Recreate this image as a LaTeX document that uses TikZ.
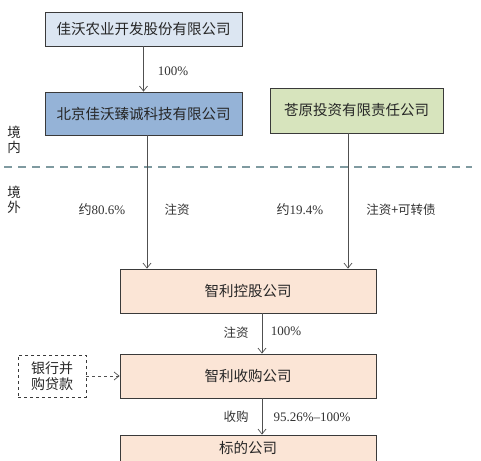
\documentclass[tikz,border=0pt]{standalone}
\usepackage{fontspec}
\setmainfont{Liberation Serif}
\newfontfamily\cjk{Noto Sans CJK SC}
\usetikzlibrary{arrows.meta}
\definecolor{boxline}{HTML}{3A3A3A}
\definecolor{paleblue}{HTML}{DCE6F2}
\definecolor{midblue}{HTML}{95B3D7}
\definecolor{palegreen}{HTML}{D7E4BD}
\definecolor{peach}{HTML}{FBE5D6}
\definecolor{divline}{HTML}{7F9AA0}
\definecolor{arrowgray}{HTML}{505050}
\tikzset{
  company/.style={draw=boxline, line width=0.8pt, inner sep=0pt, font=\cjk\fontsize{14.5}{17}\selectfont, text=black!85},
  link/.style={draw=arrowgray, line width=0.7pt, -{Straight Barb[length=5pt,width=8pt]}},
  lbl/.style={font=\fontsize{13}{15}\selectfont, text=black!80, inner sep=1pt},
  cjklbl/.style={lbl, font=\cjk\fontsize{12.5}{15}\selectfont},
  side/.style={font=\cjk\fontsize{13.5}{15}\selectfont, text=black!85, align=center, inner sep=0pt}
}
\begin{document}
\begin{tikzpicture}[x=1pt,y=-1pt]
\useasboundingbox (0,0) rectangle (481,460);
\fill[white] (0,0) rectangle (481,460);
\begin{scope}
\clip (0,0) rectangle (481,460);
% boxes
\node[company, fill=paleblue, minimum width=197pt, minimum height=34pt] (jw) at (143.5,29) {佳沃农业开发股份有限公司};
\node[company, fill=midblue, minimum width=197pt, minimum height=43pt] (bj) at (143.5,113.5) {北京佳沃臻诚科技有限公司};
\node[company, fill=palegreen, minimum width=173pt, minimum height=45pt] (cy) at (356.5,110.5) {苍原投资有限责任公司};
\node[company, fill=peach, minimum width=256pt, minimum height=44pt] (hold) at (248,291) {智利控股公司};
\node[company, fill=peach, minimum width=256pt, minimum height=44pt] (acq) at (248,376) {智利收购公司};
\node[company, fill=peach, minimum width=256pt, minimum height=44pt, text depth=20pt] (tgt) at (248,457) {标的公司};
\node[company, dashed, fill=white, minimum width=68pt, minimum height=42pt, align=center, font=\cjk\fontsize{14}{16}\selectfont] (bank) at (52,376) {银行并\\购贷款};
\end{scope}
% divider
\draw[divline, line width=1.2pt, dash pattern=on 8pt off 6pt] (4,167) coordinate (d1) -- (472,167) coordinate (d2);
\node[side] (jn) at (14,140) {境\\内};
\node[side] (jwai) at (14,200) {境\\外};
% connectors
\draw[link] (jw.south) -- (bj.north);
\node[lbl] (l100a) at (173,71) {100\%};
\coordinate (bjx) at (147,135);
\coordinate (cyx) at (348,133);
\draw[link] (bjx) -- (bjx |- hold.north);
\draw[link] (cyx) -- (cyx |- hold.north);
\node[lbl] (l806) at (102,210) {{\cjk 约}80.6\%};
\node[cjklbl] (lzz1) at (177,210) {注资};
\node[lbl] (l194) at (300,210) {{\cjk 约}19.4\%};
\node[cjklbl] (lzz2) at (401,210) {注资+可转债};
\coordinate (hx) at (262,313);
\draw[link] (hx) -- (hx |- acq.north);
\node[cjklbl] (lzz3) at (236,333) {注资};
\node[lbl] (l100b) at (286,331) {100\%};
\draw[link, dashed] (bank.east) -- (acq.west);
\coordinate (ax) at (262,398);
\draw[link] (ax) -- (ax |- tgt.north);
\node[cjklbl] (lsg) at (236,417) {收购};
\node[lbl] (l9526) at (312,417) {95.26\%–100\%};
\end{tikzpicture}
\end{document}
